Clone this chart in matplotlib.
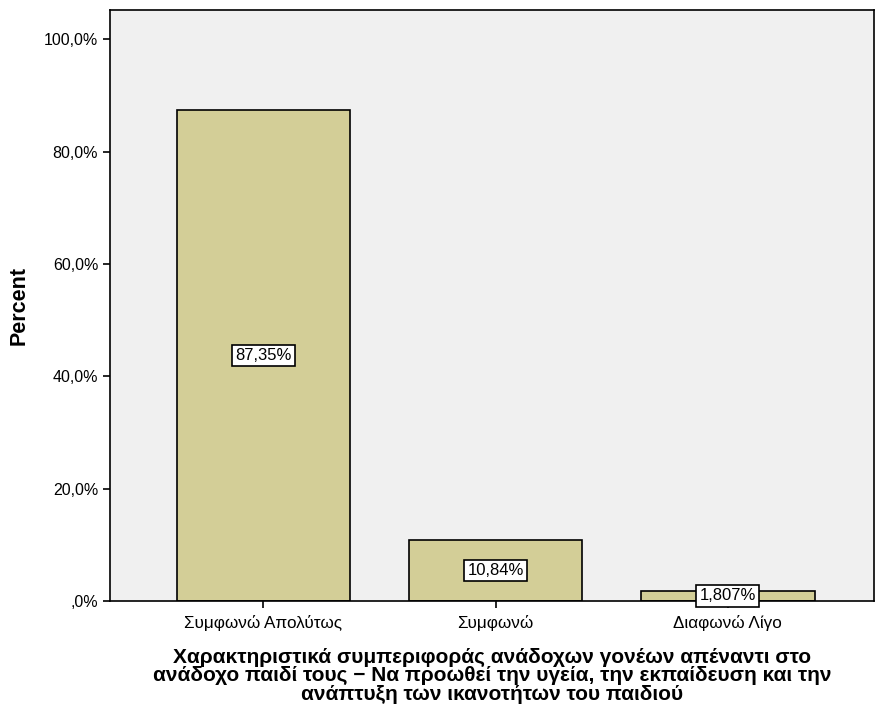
import matplotlib.pyplot as plt
from matplotlib.ticker import FuncFormatter

categories = ["Συμφωνώ Απολύτως", "Συμφωνώ", "Διαφωνώ Λίγο"]
percents = [87.35, 10.84, 1.807]
bar_labels = ["87,35%", "10,84%", "1,807%"]
yticks = [0, 20, 40, 60, 80, 100]

plt.rcParams['font.family'] = ['Liberation Sans', 'DejaVu Sans']

fig = plt.figure(figsize=(8.75, 7.1), dpi=100)
ax = fig.add_axes([0.1257, 0.1535, 0.8733, 0.8325])
ax.set_facecolor('#F0F0F0')

x = range(len(categories))
ax.bar(x, percents, width=0.747, color='#D3CE97', edgecolor='black', linewidth=1.2, zorder=2)

for xi, v, lab in zip(x, percents, bar_labels):
    ax.text(xi, v / 2, lab, ha='center', va='center', fontsize=12, zorder=3,
            bbox=dict(boxstyle='square,pad=0.2', facecolor='white', edgecolor='black', linewidth=1.2))

ax.set_xlim(-0.661, 2.63)
ax.set_ylim(0, 105.2)
ax.set_yticks(yticks)
ax.yaxis.set_major_formatter(FuncFormatter(lambda v, p: ",0%" if v == 0 else f"{v:.1f}%".replace(".", ",")))
ax.set_xticks(list(x))
ax.set_xticklabels(categories, fontsize=12.3)
ax.tick_params(axis='y', labelsize=11.5, length=5, width=1.2)
ax.tick_params(axis='x', length=5, width=1.2, pad=5)

for s in ax.spines.values():
    s.set_linewidth(1.2)

ax.set_ylabel("Percent", fontsize=15.5, fontweight='bold', labelpad=10)
ax.set_xlabel("Χαρακτηριστικά συμπεριφοράς ανάδοχων γονέων απέναντι στο\n"
              "ανάδοχο παιδί τους − Να προωθεί την υγεία, την εκπαίδευση και την\n"
              "ανάπτυξη των ικανοτήτων του παιδιού",
              fontsize=15, fontweight='bold', linespacing=0.97, labelpad=12)

fig.savefig("out.png", dpi=100)
